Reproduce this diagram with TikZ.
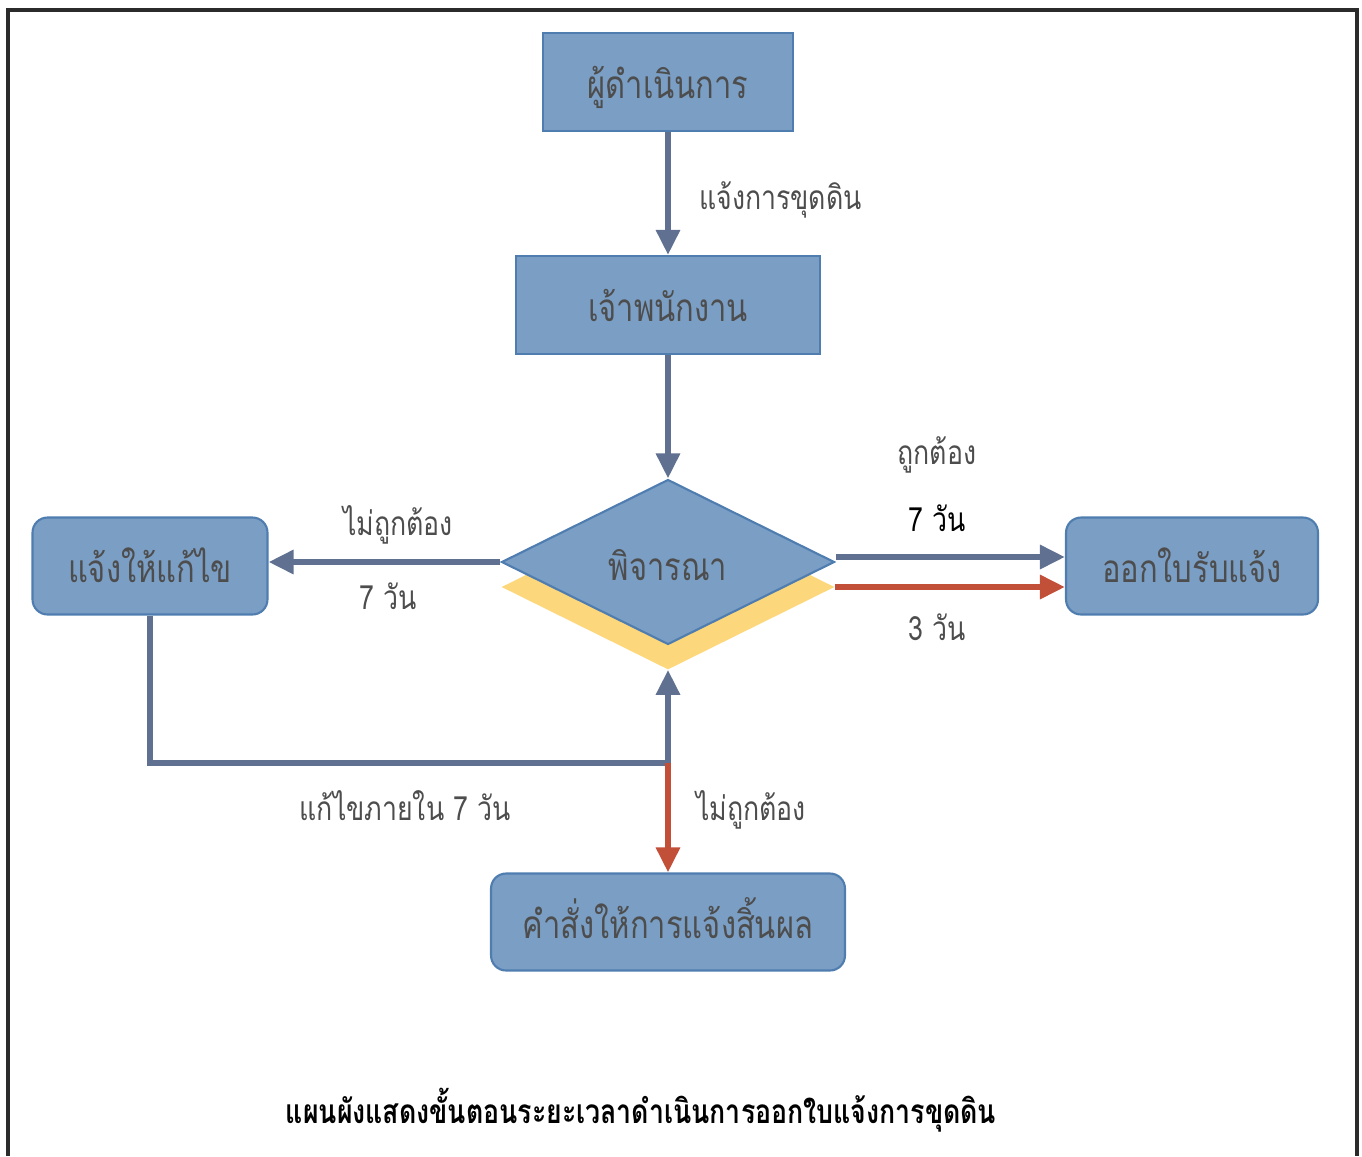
\documentclass[tikz,border=0pt]{standalone}
\usepackage{fontspec}
\newfontfamily\thaifont[Script=Thai,FakeStretch=0.8]{Loma}
\usepackage{tikz}
\usetikzlibrary{arrows.meta}
\usetikzlibrary{positioning}
\usetikzlibrary{shapes.geometric}
\definecolor{boxfill}{HTML}{7A9EC4}
\definecolor{boxline}{HTML}{4F7DB0}
\definecolor{flow}{HTML}{5F7090}
\definecolor{nogo}{HTML}{C24F37}
\definecolor{gold}{HTML}{FDD77B}
\definecolor{ink}{HTML}{4D4D4D}
\definecolor{frame}{HTML}{2B2B2B}

\begin{document}
\begin{tikzpicture}[x=0.02cm,y=-0.02cm,
  box/.style={draw=boxline,fill=boxfill,line width=1.2pt,minimum height=1.96cm,text=ink,text height=1.9em,text depth=0em,font=\thaifont\fontsize{22}{26}\selectfont},
  rbox/.style={box,rounded corners=0.3cm},
  lbl/.style={text=ink,font=\thaifont\fontsize{19}{23}\selectfont},
  flowline/.style={flow,line width=3.4pt,-{Triangle[length=0.5cm,width=0.46cm]}},
  nogoline/.style={flowline,nogo}]
  \useasboundingbox (0,0) rectangle (1362,1156);
  \draw[frame,line width=2pt] (8,1156) -- (8,10) -- (1357,10) -- (1357,1156);
  \node[box,minimum width=5cm] (doer) at (668,82) {ผู้ดำเนินการ};
  \node[box,minimum width=6.08cm] (officer) at (668,305) {เจ้าพนักงาน};
  \node[diamond,aspect=2,inner sep=0,fill=gold,minimum width=6.66cm,minimum height=3.3cm] (shade) at (668,587) {};
  \node[diamond,aspect=2,inner sep=0,draw=boxline,line width=1.2pt,fill=boxfill,minimum width=6.66cm,minimum height=3.3cm,text=ink,text height=2.1em,text depth=0em,font=\thaifont\fontsize{22}{26}\selectfont] (check) at (668,562) {พิจารณา};
  \node[rbox,minimum width=4.7cm,minimum height=1.94cm] (fix) at (150,566) {แจ้งให้แก้ไข};
  \node[rbox,minimum width=5.04cm,minimum height=1.94cm] (receipt) at (1192,566) {ออกใบรับแจ้ง};
  \node[rbox,minimum width=7.08cm,minimum height=1.94cm] (void) at (668,922) {คำสั่งให้การแจ้งสิ้นผล};
  \coordinate (fork) at (668,763);
  \node[lbl,anchor=west] (notify) at (693,200) {แจ้งการขุดดิน};
  \node[lbl] (wrongL) at (398,525) {ไม่ถูกต้อง};
  \node[lbl] (dayL) at (388,596) {7 วัน};
  \node[lbl] (right) at (937,455) {ถูกต้อง};
  \node[lbl,text=black] (dayR) at (937,518) {7 วัน};
  \node[lbl] (dayRed) at (937,627) {3 วัน};
  \node[lbl] (within) at (405,806) {แก้ไขภายใน 7 วัน};
  \node[lbl,anchor=west] (wrongB) at (690,810) {ไม่ถูกต้อง};
  \node[text=black,font=\thaifont\bfseries\fontsize{19}{23}\selectfont] (title) at (641,1110) {แผนผังแสดงขั้นตอนระยะเวลาดำเนินการออกใบแจ้งการขุดดิน};
  \draw[flowline] (doer) -- (officer);
  \draw[flowline] (officer) -- (check.north);
  \draw[flowline] (check.west) -- (fix.east |- check.west);
  \draw[flowline] ([yshift=0.1cm]check.east) -- ([yshift=0.1cm]receipt.west |- check.east);
  \draw[nogoline] (shade.east) -- (receipt.west |- shade.east);
  \draw[flowline] (fix.south) |- (fork) -- (shade.south);
  \draw[nogoline] (fork) -- (void.north);
\end{tikzpicture}
\end{document}
